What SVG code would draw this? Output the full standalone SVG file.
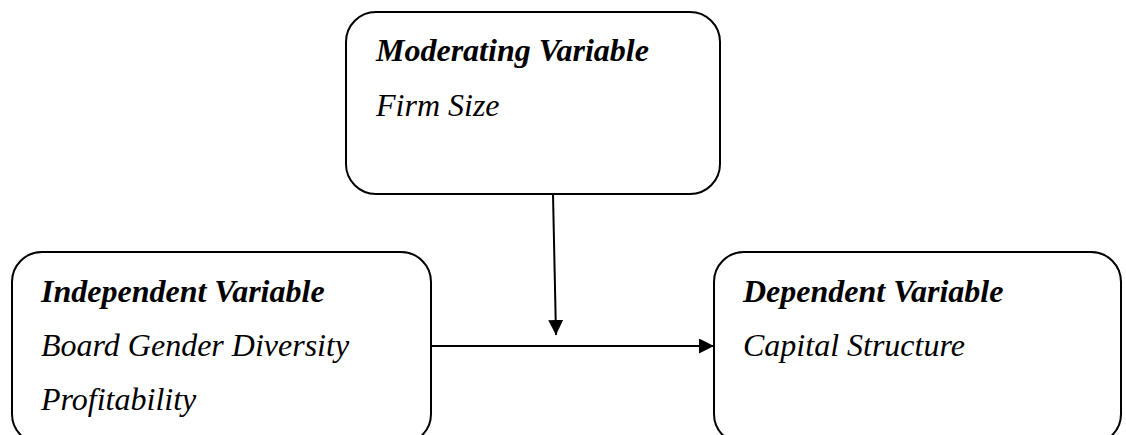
<svg xmlns="http://www.w3.org/2000/svg" width="1126" height="435" viewBox="0 0 1126 435">
  <style>
    .box { fill: #ffffff; stroke: #000000; stroke-width: 2; }
    .head { font-family: "Liberation Serif", "Times New Roman", serif; font-size: 32px; font-style: italic; font-weight: bold; fill: #000000; }
    .item { font-family: "Liberation Serif", "Times New Roman", serif; font-size: 32px; font-style: italic; fill: #000000; }
    .link { fill: none; stroke: #000000; stroke-width: 2; }
  </style>
  <defs>
    <marker id="arrow" markerUnits="userSpaceOnUse" markerWidth="15" markerHeight="15" refX="15" refY="7.5" orient="auto">
      <path d="M0,0 L15,7.5 L0,15 Z" fill="#000000"/>
    </marker>
  </defs>
  <rect width="1126" height="435" fill="#ffffff"/>

  <g id="moderating">
    <rect class="box" x="346" y="12" width="374" height="182" rx="30" ry="30"/>
    <text class="head" x="376" y="61">Moderating Variable</text>
    <text class="item" x="376" y="116">Firm Size</text>
  </g>

  <g id="independent">
    <rect class="box" x="12" y="252" width="419" height="192" rx="30" ry="30"/>
    <text class="head" x="41" y="302">Independent Variable</text>
    <text class="item" x="41" y="356">Board Gender Diversity</text>
    <text class="item" x="41" y="410">Profitability</text>
  </g>

  <g id="dependent">
    <rect class="box" x="714" y="252" width="407" height="192" rx="30" ry="30"/>
    <text class="head" x="743" y="302">Dependent Variable</text>
    <text class="item" x="743" y="356">Capital Structure</text>
  </g>

  <g id="connectors">
    <line class="link" x1="553" y1="194" x2="556" y2="335" marker-end="url(#arrow)"/>
    <line class="link" x1="431" y1="346" x2="714" y2="346" marker-end="url(#arrow)"/>
  </g>
</svg>
